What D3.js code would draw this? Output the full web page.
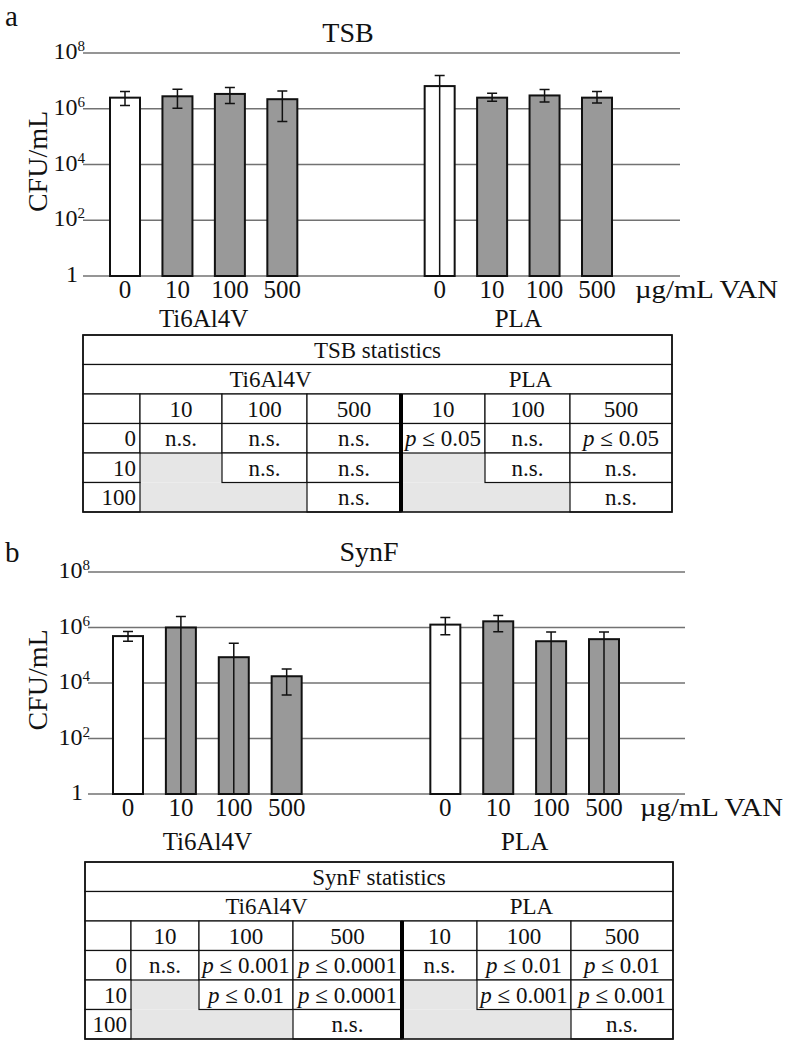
<!DOCTYPE html>
<html lang="en">
<head>
<meta charset="UTF-8">
<title>CFU/mL vs VAN</title>
<script src="https://cdn.jsdelivr.net/npm/d3@7"></script>
<style>
    body { margin: 0; background: #fff; }
    svg, svg text { font-family: "Liberation Serif", "Times New Roman", Times, "DejaVu Serif", serif; }
    svg text { fill: #111; }
    .grid { stroke: #727272; stroke-width: 1.5; }
    .bar { stroke: #111; stroke-width: 2; }
    .err { stroke: #111; stroke-width: 1.5; fill: none; }
    .cell { fill: #fff; stroke: #111; stroke-width: 1.2; }
    .blank { fill: #e6e6e6; stroke: none; }
</style>
</head>
<body>
<svg width="790" height="1050"></svg>
<script>
    var doses = ['0', '10', '100', '500'],
        materials = ['Ti6Al4V', 'PLA'],
        yExps = [0, 2, 4, 6, 8],
        statCols = ['10', '100', '500'],
        statRows = ['0', '10', '100'];

    // TSB, CFU/mL (mean, error bar low/high)
    var tsbTi = [2.5e6, 2.8e6, 3.4e6, 2.2e6],
        tsbTiLo = [1.3e6, 1.05e6, 1.55e6, 3.5e5],
        tsbTiHi = [4.2e6, 5.0e6, 5.8e6, 4.3e6],
        tsbPla = [6.5e6, 2.5e6, 3.0e6, 2.5e6],
        tsbPlaLo = [0, 1.85e6, 1.75e6, 1.6e6],
        tsbPlaHi = [1.55e7, 3.6e6, 4.9e6, 4.2e6];

    // SynF
    var synTi = [4.9e5, 1.0e6, 8.5e4, 1.75e4],
        synTiLo = [3.2e5, 0, 0, 3.7e3],
        synTiHi = [7.2e5, 2.5e6, 2.7e5, 3.2e4],
        synPla = [1.27e6, 1.67e6, 3.2e5, 3.8e5],
        synPlaLo = [5.5e5, 7.1e5, 0, 0],
        synPlaHi = [2.3e6, 2.7e6, 6.9e5, 6.9e5];

    // statistics tables (null = grey, not compared)
    var tsbStatTi = [['n.s.', 'n.s.', 'n.s.'], [null, 'n.s.', 'n.s.'], [null, null, 'n.s.']],
        tsbStatPla = [['p ≤ 0.05', 'n.s.', 'p ≤ 0.05'], [null, 'n.s.', 'n.s.'], [null, null, 'n.s.']],
        synStatTi = [['n.s.', 'p ≤ 0.001', 'p ≤ 0.0001'], [null, 'p ≤ 0.01', 'p ≤ 0.0001'], [null, null, 'n.s.']],
        synStatPla = [['n.s.', 'p ≤ 0.01', 'p ≤ 0.01'], [null, 'p ≤ 0.001', 'p ≤ 0.001'], [null, null, 'n.s.']];

    var svg = d3.select('svg');

    function drawPanel(p) {
        var g = svg.append('g'),
            y = d3.scaleLog().domain([1, 1e8]).range([p.base, p.top]),
            x = d3.scaleLinear().domain([0, 9]).range(p.xRange),
            bw = 30;

        var rows = [];
        materials.forEach(function(m, mi) {
            doses.forEach(function(d, di) {
                rows.push({
                    slot: mi * 6 + di,
                    dose: d,
                    v: p.means[mi][di],
                    lo: Math.max(1, p.lo[mi][di]),
                    hi: p.hi[mi][di]
                });
            });
        });

        // panel letter + title
        g.append('text').attr('x', 5).attr('y', p.letterY)
            .style('font-size', '29px').text(p.letter);
        g.append('text').attr('x', p.titleX).attr('y', p.top - 11)
            .attr('text-anchor', 'middle').style('font-size', '28px').text(p.title);

        // grid lines
        g.selectAll('.grid').data(yExps).enter().append('line')
            .classed('grid', true)
            .attr('x1', p.gridX[0]).attr('x2', p.gridX[1])
            .attr('y1', function(e) { return y(Math.pow(10, e)); })
            .attr('y2', function(e) { return y(Math.pow(10, e)); });

        // y tick labels, 10 with superscript exponent
        var tl = g.selectAll('.ytick').data(yExps).enter().append('text')
            .attr('text-anchor', 'end')
            .attr('y', function(e) { return y(Math.pow(10, e)) + 6; })
            .style('font-size', '24px');
        tl.each(function(e) {
            var t = d3.select(this);
            if (e === 0) {
                t.attr('x', p.gridX[0] - 5).text('1');
            } else {
                t.attr('x', p.gridX[0] + 2);
                t.append('tspan').text('10');
                t.append('tspan').attr('dy', -8).style('font-size', '15px').text(e);
            }
        });

        g.append('text')
            .attr('transform', 'translate(47,' + ((p.top + p.base) / 2 - 3) + ') rotate(-90)')
            .attr('text-anchor', 'middle').style('font-size', '28px').text('CFU/mL');

        // bars
        g.selectAll('.bar').data(rows).enter().append('rect')
            .classed('bar', true)
            .attr('x', function(d) { return x(d.slot) - bw / 2; })
            .attr('y', function(d) { return y(d.v); })
            .attr('width', bw)
            .attr('height', function(d) { return y(1) - y(d.v); })
            .attr('fill', function(d) { return d.dose === '0' ? '#fff' : '#999'; });

        // error bars
        g.selectAll('.err').data(rows).enter().append('path')
            .classed('err', true)
            .attr('d', function(d) {
                var cx = x(d.slot), y1 = y(d.hi), y2 = y(d.lo);
                return 'M' + (cx - 5) + ',' + y1 + 'H' + (cx + 5) +
                    'M' + cx + ',' + y1 + 'V' + y2 +
                    'M' + (cx - 5) + ',' + y2 + 'H' + (cx + 5);
            });

        // x labels
        g.selectAll('.xl').data(rows).enter().append('text')
            .attr('x', function(d) { return x(d.slot); })
            .attr('y', p.base + 22)
            .attr('text-anchor', 'middle').style('font-size', '25px')
            .text(function(d) { return d.dose; });

        materials.forEach(function(m, mi) {
            g.append('text')
                .attr('x', (x(mi * 6) + x(mi * 6 + 3)) / 2)
                .attr('y', p.groupY)
                .attr('text-anchor', 'middle').style('font-size', '25px').text(m);
        });

        g.append('text').attr('x', p.unitX).attr('y', p.base + 22)
            .attr('textLength', 143).attr('lengthAdjust', 'spacingAndGlyphs')
            .style('font-size', '25px').text('µg/mL VAN');
    }

    function cellText(g, str, cx, cy, w, anchor, ax) {
        var t = g.append('text').attr('y', cy + 8).style('font-size', '23px')
            .attr('text-anchor', anchor || 'middle').attr('x', ax != null ? ax : cx);
        if (str.indexOf('p ') === 0) {
            t.append('tspan').style('font-style', 'italic').text('p');
            t.append('tspan').text(str.slice(1));
        } else {
            t.text(str);
        }
        if (w && t.node().getComputedTextLength() > w - 4) {
            t.attr('textLength', w - 4).attr('lengthAdjust', 'spacingAndGlyphs');
        }
        return t;
    }

    function drawTable(xs, y0, rh, title, tiVals, plaVals) {
        var g = svg.append('g'),
            x0 = xs[0], x1 = xs[xs.length - 1];

        g.append('rect').classed('cell', true)
            .attr('x', x0).attr('y', y0).attr('width', x1 - x0).attr('height', rh);
        cellText(g, title, (x0 + x1) / 2, y0 + rh / 2);

        g.append('rect').classed('cell', true)
            .attr('x', x0).attr('y', y0 + rh).attr('width', x1 - x0).attr('height', rh);
        cellText(g, materials[0], (xs[1] + xs[4]) / 2, y0 + rh * 1.5);
        cellText(g, materials[1], (xs[4] + xs[7]) / 2 - 6, y0 + rh * 1.5);

        // header row
        for (var c = 0; c < 7; c++) {
            g.append('rect').classed('cell', true)
                .attr('x', xs[c]).attr('y', y0 + 2 * rh)
                .attr('width', xs[c + 1] - xs[c]).attr('height', rh);
            if (c > 0) cellText(g, statCols[(c - 1) % 3], (xs[c] + xs[c + 1]) / 2, y0 + rh * 2.5);
        }

        // grey blanks first, then the filled cells on top
        statRows.forEach(function(r, ri) {
            var yy = y0 + (3 + ri) * rh;
            for (var c = 1; c < 7; c++) {
                var vals = c <= 3 ? tiVals : plaVals,
                    v = vals[ri][(c - 1) % 3];
                if (v === null) {
                    g.append('rect').classed('blank', true)
                        .attr('x', xs[c]).attr('y', yy)
                        .attr('width', xs[c + 1] - xs[c]).attr('height', rh);
                }
            }
        });
        statRows.forEach(function(r, ri) {
            var yy = y0 + (3 + ri) * rh;
            g.append('rect').classed('cell', true)
                .attr('x', xs[0]).attr('y', yy).attr('width', xs[1] - xs[0]).attr('height', rh);
            cellText(g, r, 0, yy + rh / 2, null, 'end', xs[1] - 4);
            for (var c = 1; c < 7; c++) {
                var vals = c <= 3 ? tiVals : plaVals,
                    v = vals[ri][(c - 1) % 3];
                if (v === null) continue;
                var w = xs[c + 1] - xs[c];
                g.append('rect').classed('cell', true)
                    .attr('x', xs[c]).attr('y', yy).attr('width', w).attr('height', rh);
                cellText(g, v, (xs[c] + xs[c + 1]) / 2, yy + rh / 2, w);
            }
        });

        // thick divider between the two materials
        g.append('line')
            .attr('x1', xs[4]).attr('x2', xs[4])
            .attr('y1', y0 + 2 * rh).attr('y2', y0 + 6 * rh)
            .attr('stroke', '#000').attr('stroke-width', 4);

        g.append('rect')
            .attr('x', x0).attr('y', y0).attr('width', x1 - x0).attr('height', rh * 6)
            .attr('fill', 'none').attr('stroke', '#111').attr('stroke-width', 1.6);
    }

    drawPanel({
        letter: 'a', letterY: 26, title: 'TSB', titleX: 348,
        top: 53, base: 276, xRange: [125, 597], gridX: [83, 680],
        groupY: 327, unitX: 635,
        means: [tsbTi, tsbPla], lo: [tsbTiLo, tsbPlaLo], hi: [tsbTiHi, tsbPlaHi]
    });
    drawTable([83, 140, 222, 307, 401, 485, 570, 672], 335, 29.5, 'TSB statistics', tsbStatTi, tsbStatPla);

    drawPanel({
        letter: 'b', letterY: 562, title: 'SynF', titleX: 369,
        top: 572, base: 794, xRange: [128, 604], gridX: [88, 685],
        groupY: 850, unitX: 640,
        means: [synTi, synPla], lo: [synTiLo, synPlaLo], hi: [synTiHi, synPlaHi]
    });
    drawTable([85, 131, 199, 293, 402, 477, 571, 673], 862, 29.5, 'SynF statistics', synStatTi, synStatPla);
</script>
</body>
</html>
